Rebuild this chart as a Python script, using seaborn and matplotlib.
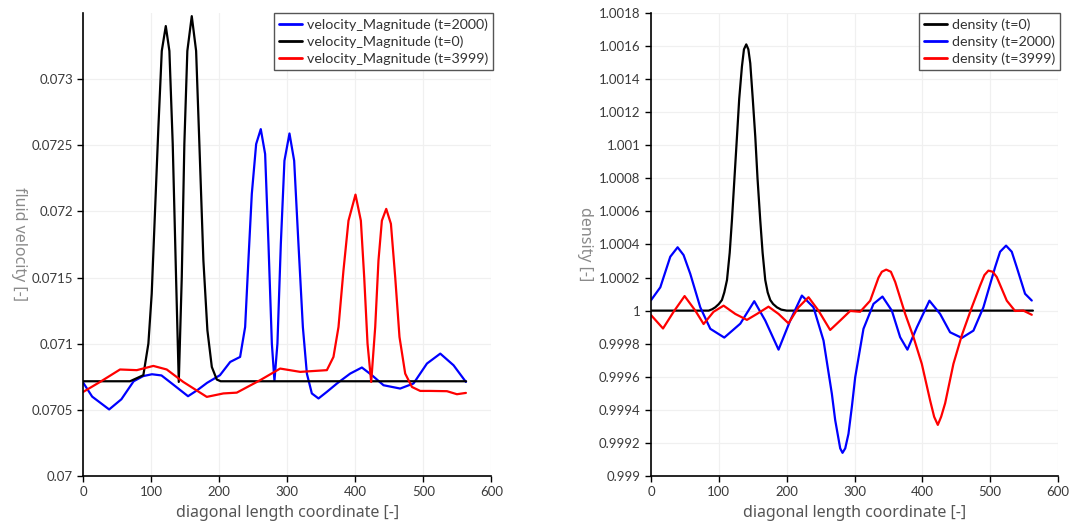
import numpy as np
import pandas as pd
import matplotlib
matplotlib.use("Agg")
import matplotlib.pyplot as plt
import seaborn as sns

# ---------------- data: velocity magnitude ----------------
vel_t2000_x = [0, 13, 38, 56, 74, 88, 101, 115, 130, 154, 168, 182, 201, 216, 230.6, 238, 242.8,
               247.8, 254.2, 261, 267.4, 272.3, 277.3, 281.1, 285.5, 290.5, 295.8, 303.2, 310.1,
               316.4, 322.9, 328.8, 336.1, 345.9, 358.2, 373, 392.5, 409.7, 424.4, 441.5, 466,
               485.6, 505.4, 525, 544.5, 562.7]
vel_t2000_y = [0.070704, 0.070600, 0.070503, 0.070580, 0.070716, 0.070755, 0.070769, 0.070760,
               0.070700, 0.070603, 0.070650, 0.070704, 0.070762, 0.070862, 0.070900, 0.071126,
               0.071629, 0.072132, 0.072509, 0.072622, 0.072434, 0.071755, 0.071001, 0.070719,
               0.071001, 0.071755, 0.072383, 0.072589, 0.072383, 0.071755, 0.071126, 0.070774,
               0.070624, 0.070586, 0.070636, 0.070699, 0.070774, 0.070820, 0.070762, 0.070686,
               0.070661, 0.070699, 0.070850, 0.070925, 0.070837, 0.070711]

vel_t0_x = [0, 68.7, 88.3, 95.7, 100.6, 105.5, 110.4, 115.4, 121.3, 126.6, 131.5, 136.4, 140.4,
            144.8, 148.6, 153, 159.5, 165.9, 170.7, 176.6, 182.5, 189, 196.3, 202, 563]
vel_t0_y = [0.070716, 0.070716, 0.070762, 0.071001, 0.071378, 0.072006, 0.072634, 0.073213,
            0.073401, 0.073213, 0.072509, 0.071503, 0.070711, 0.071503, 0.072509, 0.073213,
            0.073476, 0.073213, 0.072509, 0.071629, 0.071101, 0.070824, 0.070729, 0.070716,
            0.070716]

vel_t3999_x = [0, 24.6, 54, 78.6, 103, 122.7, 147, 181.6, 206, 225.7, 260, 289.5, 319, 358.2,
               367.9, 375.3, 382.6, 390, 400.3, 408.2, 413.1, 418, 423.4, 429.3, 434.1, 439.1,
               445.5, 452.4, 458.7, 465, 473.4, 483.3, 495.5, 510.2, 534.8, 549.5, 562.7]
vel_t3999_y = [0.070636, 0.070711, 0.070805, 0.070800, 0.070832, 0.070805, 0.070711, 0.070598,
               0.070624, 0.070630, 0.070724, 0.070812, 0.070787, 0.070800, 0.070900, 0.071126,
               0.071553, 0.071930, 0.072127, 0.071930, 0.071503, 0.071001, 0.070711, 0.071126,
               0.071629, 0.071930, 0.072019, 0.071906, 0.071503, 0.071051, 0.070774, 0.070673,
               0.070643, 0.070643, 0.070641, 0.070618, 0.070628]

# ---------------- data: density ----------------
den_t0_x = [0, 85, 90, 94.7, 100, 104.5, 108, 112, 116, 119.3, 123, 126.7, 130, 134, 137, 140.4,
            143.5, 146.3, 150, 153.7, 157, 161, 164.5, 168.4, 172, 175.8, 180, 185.6, 192, 200,
            563]
den_t0_y = [1.0, 1.0, 1.000008, 1.00002, 1.00004, 1.000064, 1.00011, 1.000185, 1.00035,
            1.000548, 1.0008, 1.001052, 1.00128, 1.001475, 1.00158, 1.00161, 1.00158, 1.001496,
            1.00128, 1.001052, 1.0008, 1.000548, 1.00035, 1.000185, 1.00011, 1.000064,
            1.00004, 1.00002, 1.000006, 1.0, 1.0]

den_t2000_x = [0, 13.7, 28.4, 39.2, 48, 57.9, 72.6, 87.4, 108, 131.6, 152.2, 168.4, 188, 205.2,
               222.4, 239.5, 254.3, 266.6, 271.5, 278.9, 282.3, 286.3, 291.1, 296.1, 301, 313.2,
               328, 341.2, 355, 367.3, 378, 391.9, 410.4, 426.2, 440.9, 458.2, 475.3, 490,
               507.2, 514.6, 523.4, 531.8, 539.2, 551.4, 561.3]
den_t2000_y = [1.000063, 1.000141, 1.000326, 1.000383, 1.000336, 1.000222, 1.00002, 0.99989,
               0.999837, 0.999921, 1.000057, 0.99994, 0.999764, 0.99994, 1.000091, 1.00002,
               0.999819, 0.999497, 0.999338, 0.999167, 0.99914, 0.999167, 0.999255, 0.999419,
               0.999597, 0.99989, 1.000041, 1.000085, 1.0, 0.999839, 0.999764, 0.999899,
               1.00006, 0.99998, 0.999869, 0.999835, 0.999879, 1.00002, 1.000262, 1.000356,
               1.000393, 1.000356, 1.000262, 1.000102, 1.000061]

den_t3999_x = [0, 17.7, 33.3, 49.5, 65.3, 77.5, 92.2, 107, 124.2, 141.4, 156.2, 173.2, 188,
               202.7, 217.4, 232.2, 246.9, 264.1, 278.9, 293.6, 308.3, 323.1, 335.4, 340.3,
               346.7, 353.6, 360, 374.7, 387, 399.2, 411.5, 417.4, 422.8, 427.7, 433.6, 445.8,
               458.2, 472.9, 485.1, 491.5, 497.4, 503.8, 509.7, 524.5, 536.7, 549, 561.3]
den_t3999_y = [0.999973, 0.999892, 0.999993, 1.000088, 1.0, 0.999919, 0.999993, 1.00003,
               0.99998, 0.999944, 0.99998, 1.000024, 0.99998, 0.999923, 1.00002, 1.000081,
               1.0, 0.999883, 0.99994, 0.999998, 0.999993, 1.00006, 1.0002, 1.000235,
               1.000248, 1.000235, 1.000173, 0.99998, 0.999839, 0.999678, 0.999456, 0.999358,
               0.999309, 0.999358, 0.99944, 0.999678, 0.999851, 1.00002, 1.000151, 1.000215,
               1.000242, 1.000235, 1.000203, 1.00006, 0.999998, 1.0, 0.999975]

vel_labels = ["velocity_Magnitude (t=2000)", "velocity_Magnitude (t=0)", "velocity_Magnitude (t=3999)"]
den_labels = ["density (t=0)", "density (t=2000)", "density (t=3999)"]
vel_yticks = [0.07, 0.0705, 0.071, 0.0715, 0.072, 0.0725, 0.073]
den_yticks = [0.999, 0.9992, 0.9994, 0.9996, 0.9998, 1.0, 1.0002, 1.0004, 1.0006, 1.0008,
              1.001, 1.0012, 1.0014, 1.0016, 1.0018]
xticks = [0, 100, 200, 300, 400, 500, 600]

# ---------------- style ----------------
sns.set_style("ticks")
plt.rcParams['font.family'] = ['Lato', 'DejaVu Sans']

fig = plt.figure(figsize=(10.75, 5.27), dpi=100)
ax1 = fig.add_axes([0.0775, 0.0968, 0.3795, 0.8786])
ax2 = fig.add_axes([0.6056, 0.0968, 0.3786, 0.8786])

colors = {"blue": "#0000ff", "black": "#000000", "red": "#ff0000"}


def draw(ax, series, labels, cols):
    frames = []
    for (xs, ys), lab in zip(series, labels):
        frames.append(pd.DataFrame({"x": xs, "y": ys, "series": lab}))
    df = pd.concat(frames, ignore_index=True)
    sns.lineplot(data=df, x="x", y="y", hue="series", hue_order=labels,
                 palette=dict(zip(labels, cols)), estimator=None, sort=False,
                 linewidth=1.6, ax=ax)
    for ln in ax.get_lines():
        ln.set_solid_joinstyle("round")


draw(ax1, [(vel_t2000_x, vel_t2000_y), (vel_t0_x, vel_t0_y), (vel_t3999_x, vel_t3999_y)],
     vel_labels, [colors["blue"], colors["black"], colors["red"]])
draw(ax2, [(den_t0_x, den_t0_y), (den_t2000_x, den_t2000_y), (den_t3999_x, den_t3999_y)],
     den_labels, [colors["black"], colors["blue"], colors["red"]])

for ax, yt, ylim, ylab, lx in [(ax1, vel_yticks, (0.07, 0.07350), "fluid velocity [-]", -0.158),
                               (ax2, den_yticks, (0.999, 1.0018), "density [-]", -0.161)]:
    ax.set_xlim(0, 600)
    ax.set_ylim(*ylim)
    ax.set_xticks(xticks)
    ax.set_yticks(yt)
    ax.set_yticklabels(["%g" % round(v, 6) for v in yt])
    ax.grid(True, color="#f0f0f0", linewidth=0.9)
    ax.set_axisbelow(True)
    for s in ["top", "right"]:
        ax.spines[s].set_visible(False)
    for s in ["left", "bottom"]:
        ax.spines[s].set_color("#000000")
        ax.spines[s].set_linewidth(1.2)
    ax.tick_params(axis="both", labelsize=9.5, colors="#000000", labelcolor="#3a3a3a",
                   length=4, width=1)
    ax.set_xlabel("diagonal length coordinate [-]", fontsize=11.5, color="#555555",
                  family=["Noto Sans", "DejaVu Sans"], labelpad=5)
    ax.set_ylabel(ylab, fontsize=11.5, color="#8a8a8a", rotation=270,
                  family=["Noto Sans", "DejaVu Sans"])
    ax.yaxis.label.set_rotation_mode("default")
    ax.yaxis.label.set_va("center")
    ax.yaxis.label.set_ha("center")
    ax.yaxis.set_label_coords(lx, 0.5)
    leg = ax.legend(loc="upper right", bbox_to_anchor=(1.005, 1.0), borderaxespad=0,
                    fontsize=10.3, frameon=True, fancybox=False, framealpha=1,
                    handlelength=1.6, handletextpad=0.35, borderpad=0.35, labelspacing=0.33)
    leg.get_frame().set_edgecolor("#555555")
    leg.get_frame().set_linewidth(1.0)
    for t in leg.get_texts():
        t.set_color("#333333")
    for l in leg.get_lines():
        l.set_linewidth(2)

fig.savefig("out.png", dpi=100, facecolor="white")
